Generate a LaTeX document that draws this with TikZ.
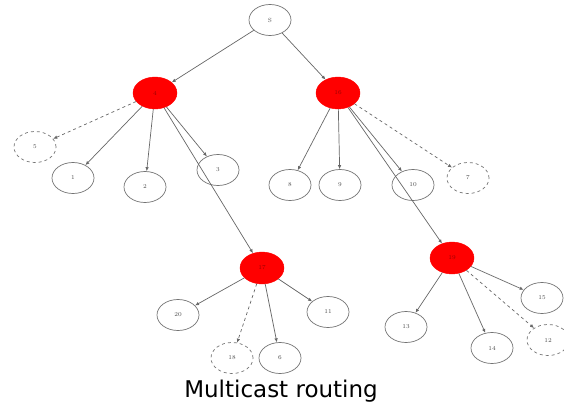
\documentclass[tikz,border=0pt]{standalone}
\usepackage{fontspec}
\newfontfamily\titlefont{DejaVu Sans}
\usetikzlibrary{shapes.geometric,arrows.meta}
\begin{document}
\begin{tikzpicture}[x=1pt,y=-1pt,
  nd/.style={ellipse,draw=black!55,line width=0.7pt,minimum width=42pt,minimum height=31pt,inner sep=0pt,font=\fontsize{6}{7}\selectfont,text=black!70},
  dnd/.style={nd,dashed},
  rnd/.style={ellipse,fill=red,draw=red,minimum width=44pt,minimum height=32pt,inner sep=0pt,font=\fontsize{6}{7}\selectfont,text=red!60!black},
  ed/.style={draw=black!60,line width=0.7pt,-{Latex[length=4pt,width=3.5pt]}},
  ded/.style={ed,dashed}]
\useasboundingbox (0,0) rectangle (564,404);
\node[nd] (s) at (270,20) {S};
\node[rnd] (r4) at (155,93) {4};
\node[rnd] (r16) at (338,93) {16};
\node[dnd] (n5) at (35,147) {5};
\node[nd] (n1) at (73,178) {1};
\node[nd] (n2) at (145,187) {2};
\node[nd] (n3) at (218,170) {3};
\node[nd] (n8) at (290,185) {8};
\node[nd] (n9) at (340,185) {9};
\node[nd] (n10) at (413,185) {10};
\node[dnd] (n7) at (468,178) {7};
\node[rnd] (r17) at (262,268) {17};
\node[rnd] (r19) at (452,258) {19};
\node[nd] (n20) at (178,315) {20};
\node[dnd] (n18) at (232,358) {18};
\node[nd] (n6) at (280,358) {6};
\node[nd] (n11) at (328,312) {11};
\node[nd] (n13) at (406,327) {13};
\node[nd] (n14) at (492,348) {14};
\node[dnd] (n12) at (548,340) {12};
\node[nd] (n15) at (542,298) {15};
\draw[ed] (s) -- (r4);
\draw[ed] (s) -- (r16);
\draw[ded] (r4) -- (n5);
\draw[ed] (r4) -- (n1);
\draw[ed] (r4) -- (n2);
\draw[ed] (r4) -- (n3);
\draw[ed] (r4) -- (r17);
\draw[ed] (r16) -- (n8);
\draw[ed] (r16) -- (n9);
\draw[ed] (r16) -- (n10);
\draw[ded] (r16) -- (n7);
\draw[ed] (r16) -- (r19);
\draw[ed] (r17) -- (n20);
\draw[ded] (r17) -- (n18);
\draw[ed] (r17) -- (n6);
\draw[ed] (r17) -- (n11);
\draw[ed] (r19) -- (n13);
\draw[ed] (r19) -- (n14);
\draw[ded] (r19) -- (n12);
\draw[ed] (r19) -- (n15);
\node[font=\titlefont\fontsize{23}{26}\selectfont,anchor=base,inner sep=0pt] (title) at (281,397) {Multicast routing};
\end{tikzpicture}
\end{document}
